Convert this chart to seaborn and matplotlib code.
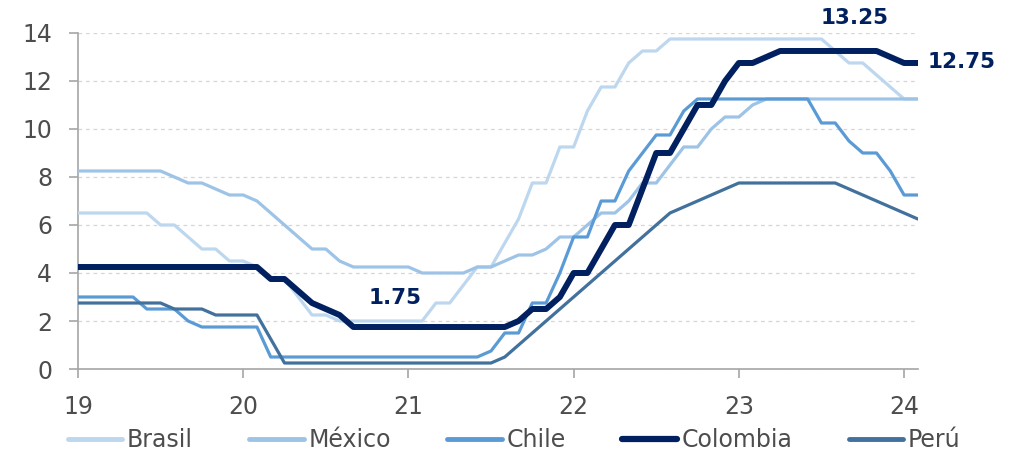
import matplotlib
matplotlib.use("Agg")
import matplotlib.pyplot as plt
import seaborn as sns
import pandas as pd
import numpy as np

# tasas de politica monetaria, mensual ene-2019 a feb-2024
brasil = [6.5]*6 + [6.0]*2 + [5.5] + [5.0]*2 + [4.5]*2 + [4.25] + [3.75]*2 + [3.0] + [2.25]*2 \
    + [2.0]*7 + [2.75]*2 + [3.5] + [4.25]*2 + [5.25] + [6.25] + [7.75]*2 + [9.25]*2 + [10.75] \
    + [11.75]*2 + [12.75] + [13.25]*2 + [13.75]*12 + [13.25] + [12.75]*2 + [12.25] + [11.75] + [11.25]*2
mexico = [8.25]*7 + [8.0] + [7.75]*2 + [7.5] + [7.25]*2 + [7.0] + [6.5] + [6.0] + [5.5] + [5.0]*2 \
    + [4.5] + [4.25]*5 + [4.0]*4 + [4.25]*2 + [4.5] + [4.75]*2 + [5.0] + [5.5]*2 + [6.0] + [6.5]*2 \
    + [7.0] + [7.75]*2 + [8.5] + [9.25]*2 + [10.0] + [10.5]*2 + [11.0] + [11.25]*12
chile = [3.0]*5 + [2.5]*3 + [2.0] + [1.75]*5 + [0.5]*16 + [0.75] + [1.5]*2 + [2.75]*2 + [4.0] \
    + [5.5]*2 + [7.0]*2 + [8.25] + [9.0] + [9.75]*2 + [10.75] + [11.25]*9 + [10.25]*2 + [9.5] \
    + [9.0]*2 + [8.25] + [7.25]*2
colombia = [4.25]*14 + [3.75]*2 + [3.25] + [2.75] + [2.5] + [2.25] + [1.75]*12 + [2.0] + [2.5]*2 \
    + [3.0] + [4.0]*2 + [5.0] + [6.0]*2 + [7.5] + [9.0]*2 + [10.0] + [11.0]*2 + [12.0] + [12.75]*2 \
    + [13.0] + [13.25]*8 + [13.0] + [12.75]*2
peru = [2.75]*7 + [2.5]*3 + [2.25]*4 + [1.25] + [0.25]*16 + [0.5, 1.0, 1.5, 2.0, 2.5, 3.0, 3.5, 4.0,
    4.5, 5.0, 5.5, 6.0, 6.5, 6.75, 7.0, 7.25, 7.5] + [7.75]*8 + [7.5, 7.25, 7.0, 6.75, 6.5, 6.25]

paises = ["Brasil", "México", "Chile", "Colombia", "Perú"]
series = [brasil, mexico, chile, colombia, peru]
colores = ["#BDD7EE", "#9DC3E6", "#5B9BD5", "#002060", "#41719C"]
anios = ["19", "20", "21", "22", "23", "24"]

meses = np.arange(len(colombia))
df = pd.DataFrame({p: s for p, s in zip(paises, series)})
df["mes"] = meses

sns.set_style("white")
plt.rcParams['font.family'] = ['DejaVu Sans']

fig = plt.figure(figsize=(10.18, 4.55), dpi=100)
ax = fig.add_axes([0.0766, 0.189, 0.825, 0.7385])

for p, c in zip(paises, colores):
    if p == "Colombia":
        sns.lineplot(data=df, x="mes", y=p, color=c, linewidth=4.3, label=p, ax=ax, zorder=5,
                     solid_capstyle="round")
    else:
        sns.lineplot(data=df, x="mes", y=p, color=c, linewidth=2.3, label=p, ax=ax, zorder=3)

ax.set_xlim(0, len(colombia) - 1)
ax.set_ylim(0, 14)
ax.set_xticks(np.arange(0, len(colombia), 12))
ax.set_xticklabels(anios)
ax.set_yticks(np.arange(0, 15, 2))
ax.set_xlabel("")
ax.set_ylabel("")
ax.yaxis.grid(True, color="#D6D6D6", linestyle=(0, (3, 3)), linewidth=0.9)
ax.set_axisbelow(True)
for s in ["top", "right"]:
    ax.spines[s].set_visible(False)
for s in ["left", "bottom"]:
    ax.spines[s].set_color("#A6A6A6")
    ax.spines[s].set_linewidth(1.2)
ax.tick_params(axis="both", colors="#A6A6A6", labelcolor="#4D4D4D", labelsize=17,
               length=6.5, width=1.2, pad=12, direction="out", left=True, bottom=True)

azul = "#002060"
ax.annotate("1.75", xy=(23.0, 2.95), ha="center", va="center", fontsize=15.5,
            fontweight="bold", color=azul)
ax.annotate("13.25", xy=(56.4, 14.63), ha="center", va="center", fontsize=15.5,
            fontweight="bold", color=azul, annotation_clip=False)
ax.annotate("12.75", xy=(61.7, 12.8), ha="left", va="center", fontsize=15.5,
            fontweight="bold", color=azul, annotation_clip=False)

ax.legend_.remove()
handles, labels = ax.get_legend_handles_labels()
leg = fig.legend(handles, labels, loc="center", bbox_to_anchor=(0.505, 0.033), ncol=5,
                 frameon=False, fontsize=17, handlelength=2.3, handletextpad=0.2,
                 columnspacing=2.4, labelcolor="#4D4D4D")
for h in leg.get_lines():
    h.set_linewidth(4.5 if h.get_label() == "Colombia" else 3.5)
    h.set_solid_capstyle("round")

fig.savefig("out.png", dpi=100)
